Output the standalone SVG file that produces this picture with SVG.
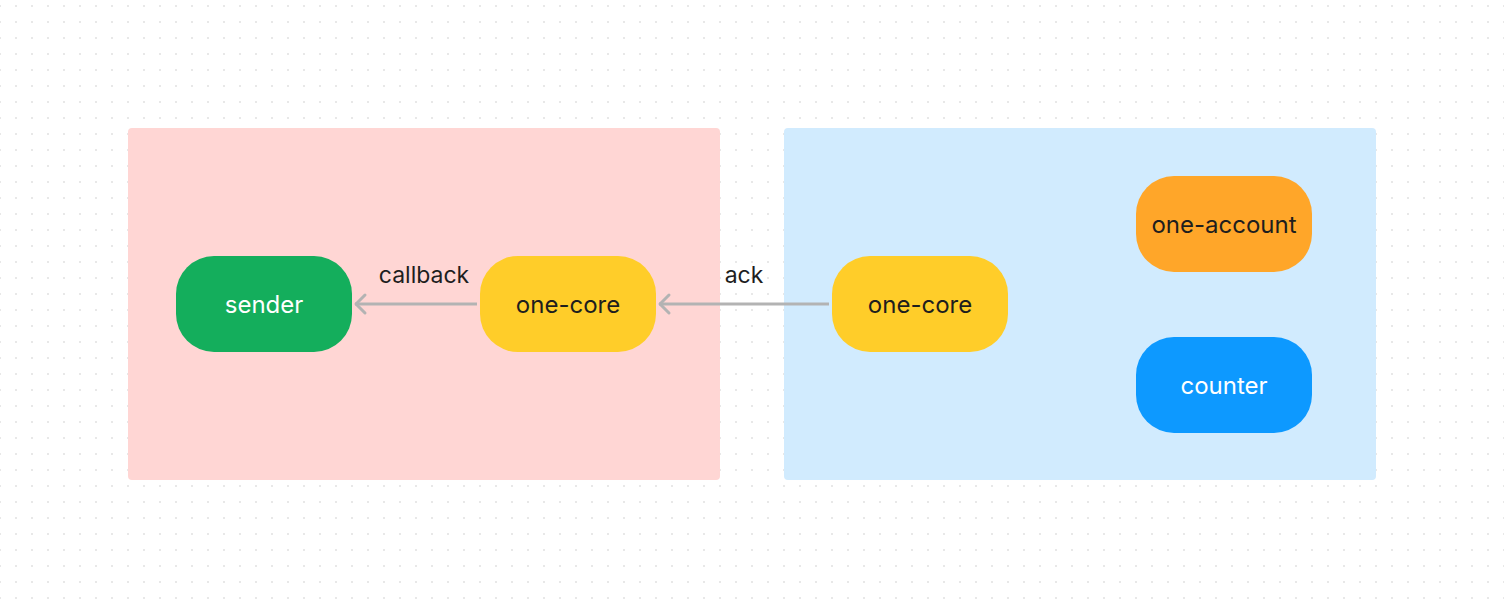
<svg xmlns="http://www.w3.org/2000/svg" width="1504" height="608" viewBox="0 0 1504 608">
<defs>
<pattern id="dots" x="0" y="6" width="16" height="16" patternUnits="userSpaceOnUse">
<rect x="-1" y="-1" width="2" height="2" fill="#e8e8e8"/>
<rect x="15" y="-1" width="2" height="2" fill="#e8e8e8"/>
<rect x="-1" y="15" width="2" height="2" fill="#e8e8e8"/>
<rect x="15" y="15" width="2" height="2" fill="#e8e8e8"/>
</pattern>
<marker id="arr" viewBox="0 0 24 24" refX="21" refY="12" markerWidth="24" markerHeight="24" markerUnits="userSpaceOnUse" orient="auto">
<path d="M11 3 L20 12 L11 21" fill="none" stroke="#b3b3b3" stroke-width="3" stroke-linecap="round" stroke-linejoin="round"/>
</marker>
<style>
.node text{font-family:Inter,"Noto Sans",sans-serif;font-size:24px;text-anchor:middle;dominant-baseline:central}
.lbl{font-family:Inter,"Noto Sans",sans-serif;font-size:23px;fill:#1e1e1e;text-anchor:middle}
.dark{fill:#1e1e1e}
.light{fill:#ffffff}
.conn{stroke:#b3b3b3;stroke-width:3;fill:none;marker-end:url(#arr)}
</style>
</defs>
<rect width="1504" height="608" fill="#ffffff"/>
<rect width="1504" height="608" fill="url(#dots)"/>
<g id="frame-left"><rect x="128" y="128" width="592" height="352" rx="4" fill="#ffd6d4"/></g>
<g id="frame-right"><rect x="784" y="128" width="592" height="352" rx="4" fill="#d1ebfe"/></g>
<g id="connectors">
<line class="conn" x1="477" y1="304" x2="355" y2="304"/>
<line class="conn" x1="829" y1="304" x2="659" y2="304"/>
<text class="lbl" x="424" y="283">callback</text>
<text class="lbl" x="744" y="283">ack</text>
</g>
<g id="sender" class="node"><rect x="176" y="256" width="176" height="96" rx="38" fill="#14ae5c"/><text class="light" x="264" y="304">sender</text></g>
<g id="one-core-left" class="node"><rect x="480" y="256" width="176" height="96" rx="38" fill="#ffcd29"/><text class="dark" x="568" y="304">one-core</text></g>
<g id="one-core-right" class="node"><rect x="832" y="256" width="176" height="96" rx="38" fill="#ffcd29"/><text class="dark" x="920" y="304">one-core</text></g>
<g id="one-account" class="node"><rect x="1136" y="176" width="176" height="96" rx="38" fill="#ffa629"/><text class="dark" x="1224" y="224">one-account</text></g>
<g id="counter" class="node"><rect x="1136" y="337" width="176" height="96" rx="38" fill="#0d99ff"/><text class="light" x="1224" y="385">counter</text></g>
</svg>
